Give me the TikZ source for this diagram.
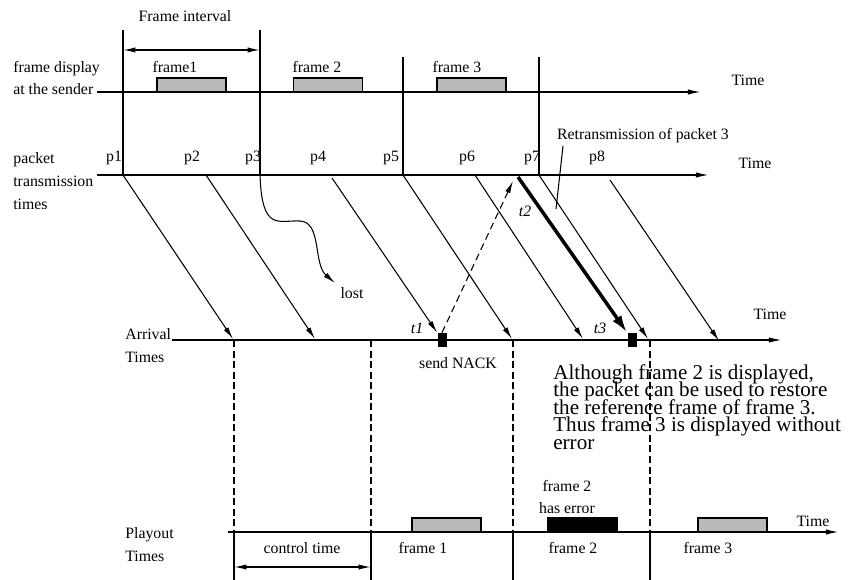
\documentclass[tikz,border=0pt]{standalone}
\usepackage{fontspec}
\setmainfont{Liberation Serif}
\usetikzlibrary{arrows.meta}
\setlength{\lineskiplimit}{-20pt}

\begin{document}
\begin{tikzpicture}[x=0.02cm,y=-0.02cm]
\tikzstyle{every node}=[inner sep=0pt, font=\fontsize{9}{13}\selectfont]
\tikzstyle{tline}=[line width=1pt,-{Latex[length=8pt,width=3pt]}]
\tikzstyle{pkt}=[line width=0.6pt,-{Latex[length=7pt,width=3pt]}]
\tikzstyle{resend}=[line width=2pt,-{Latex[length=10pt,width=6pt]}]
\tikzstyle{slot}=[line width=0.7pt]
\tikzstyle{gap}=[line width=0.9pt, dash pattern=on 4pt off 2pt]
\tikzstyle{span}=[line width=0.8pt,{Latex[length=7pt,width=3pt]}-{Latex[length=7pt,width=3pt]}]
\tikzstyle{shot}=[draw, line width=0.8pt, fill=gray!55, minimum width=1.38cm, minimum height=0.28cm]
\tikzstyle{bad}=[shot, fill=black]
\tikzstyle{nack}=[fill=black, minimum width=0.18cm, minimum height=0.28cm]
\useasboundingbox (0,0) rectangle (854,580);

% time axes
\coordinate (s0) at (97,92);   \coordinate (s9) at (702,92);
\coordinate (q0) at (97,175);  \coordinate (q9) at (710,175);
\coordinate (r0) at (172,340); \coordinate (r9) at (783,340);
\coordinate (u0) at (228,532); \coordinate (u9) at (840,532);
\foreach \i/\j in {s0/s9,q0/q9,r0/r9,u0/u9}{\draw[tline] (\i) -- (\j);}

% frame borders at the sender
\coordinate (v1) at (123,30);  \coordinate (b1) at (123,175);
\coordinate (v3) at (260,30);  \coordinate (b3) at (260,175);
\coordinate (v5) at (403,57);  \coordinate (b5) at (403,175);
\coordinate (v7) at (539,57);  \coordinate (b7) at (539,175);
\foreach \i/\j in {v1/b1,v3/b3,v5/b5,v7/b7}{\draw[slot] (\i) -- (\j);}
\coordinate (fi1) at (123,50); \coordinate (fi2) at (260,50);
\draw[span] (fi1) -- (fi2);
\node (fint) at (185,16) {Frame interval};

\node[shot] (f1) at (191.5,85) {};
\node[shot] (f2) at (328,85) {};
\node[shot] (f3) at (471.5,85) {};
\node (fl1) at (175,67) {frame1};
\node (fl2) at (317,67) {frame 2};
\node (fl3) at (457,67) {frame 3};
\node[anchor=west, align=left] (sndr) at (13,78) {frame display\\at the sender};
\node (tm1) at (748,80) {Time};

% packets
\node[anchor=west, align=left] (pktl) at (13,181) {packet\\transmission\\times};
\foreach \n/\x in {1/114,2/192,3/253,4/318,5/391,6/467,7/532,8/597}{\node (p\n) at (\x,158) {p\n};}
\node (tm2) at (755,163) {Time};

\node[nack] (n1) at (442,340) {};
\node[nack] (n3) at (632,340) {};

\coordinate (b2) at (206,175); \coordinate (b4) at (332,178);
\coordinate (b6) at (475,175); \coordinate (b8) at (610,180);
\coordinate (e1) at (233,339); \coordinate (e2) at (315,339);
\coordinate (e5) at (512,339); \coordinate (e6) at (583,339);
\coordinate (e7) at (648,339); \coordinate (e8) at (719,341);
\foreach \i/\j in {b1/e1,b2/e2,b4/n1.north west,b5/e5,b6/e6,b7/e7,b8/e8}{\draw[pkt] (\i) -- (\j);}

% lost packet
\coordinate (w1) at (300,221); \coordinate (lo) at (335,283);
\draw[pkt] (b3) .. controls (262,232) and (278,220) .. (w1) .. controls (322,222) and (313,264) .. (lo);
\node (lost) at (352,293) {lost};

% NACK and retransmission
\coordinate (nk) at (513,181);
\draw[pkt, dash pattern=on 4pt off 2.5pt] (n1.north) -- (nk);
\coordinate (rs) at (518,177);
\draw[resend] (rs) -- (n3.north west);
\node (retx) at (643,136) {Retransmission of packet 3};
\coordinate (rp) at (556,209);
\draw[line width=0.6pt] (563,146) -- (rp);
\node[font=\fontsize{9}{13}\selectfont\itshape] (t1) at (417,328) {t1};
\node[font=\fontsize{9}{13}\selectfont\itshape] (t2) at (525,211) {t2};
\node[font=\fontsize{9}{13}\selectfont\itshape] (t3) at (600,328) {t3};
\node (snd) at (458,363) {send NACK};
\node[anchor=west, align=left] (arrl) at (125,346) {Arrival\\Times};
\node (tm3) at (770,314) {Time};

% playout
\foreach \n/\x in {1/234,2/371,3/513,4/650}{
  \coordinate (dt\n) at (\x,340);
  \coordinate (dm\n) at (\x,532);
  \coordinate (db\n) at (\x,580);
  \draw[gap] (dt\n) -- (dm\n);
  \draw[slot] (dm\n) -- (db\n);
}
\coordinate (ct1) at (234,567); \coordinate (ct2) at (371,567);
\draw[span] (ct1) -- (ct2);
\node[shot] (g1) at (446.5,525) {};
\node[bad] (g2) at (582.5,525) {};
\node[shot] (g3) at (732.5,525) {};
\node (ctl) at (302,548) {control time};
\node (gl1) at (423,548) {frame 1};
\node (gl2) at (573,548) {frame 2};
\node (gl3) at (708,548) {frame 3};
\node[align=center, font=\fontsize{9}{12}\selectfont] (err) at (567,497) {frame 2\\has error};
\node[anchor=west, align=left] (ply) at (125,545) {Playout\\Times};
\node (tm4) at (813,521) {Time};

\node[anchor=west, align=left, font=\fontsize{12}{10}\selectfont] (note) at (553,407)
  {Although frame 2 is displayed,\\the packet can be used to restore\\the reference frame of frame 3.\\Thus frame 3 is displayed without\\error};
\end{tikzpicture}
\end{document}
